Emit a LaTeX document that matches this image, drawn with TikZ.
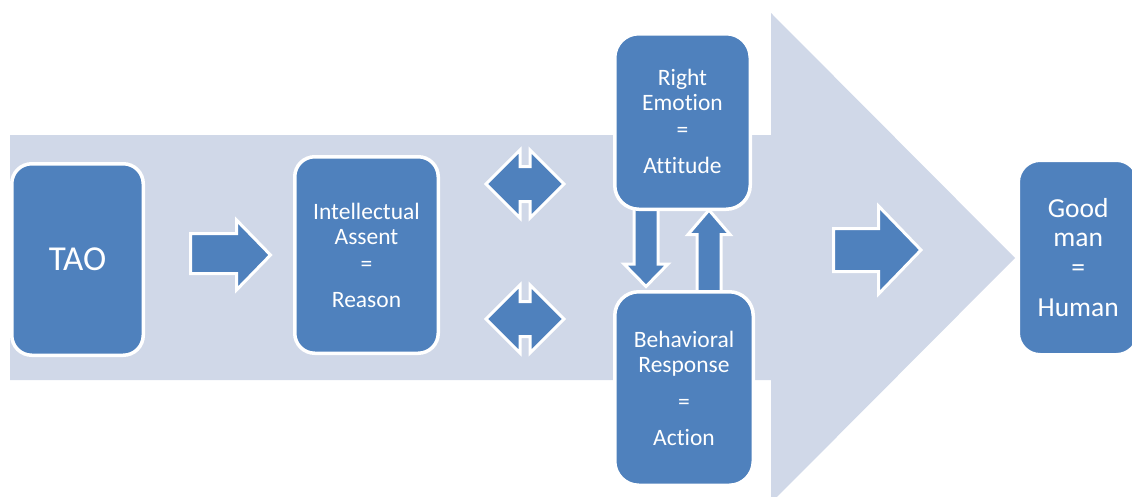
\documentclass[tikz,border=0pt]{standalone}
\usepackage{fontspec}
\setmainfont{Carlito}[Ligatures={NoCommon}]
\definecolor{boxblue}{RGB}{79,129,189}
\definecolor{bgblue}{RGB}{208,216,232}
\begin{document}
\begin{tikzpicture}[x=1pt,y=-1pt,
  box/.style={draw=white, fill=boxblue, line width=3.5pt, text=white, align=center,
    inner sep=0pt, font=\fontsize{23.5}{25}\selectfont},
  blockarrow/.style={draw=white, fill=boxblue, line width=3pt, line join=miter}]
\useasboundingbox (0,0) rectangle (1132,496);
\clip (0,0) rectangle (1132,496);
% large background arrow
\fill[bgblue] (10,135) -- (771,135) -- (771,13) -- (1015,258) -- (771,503) -- (771,380) -- (10,380) -- cycle;
% block arrows
\draw[blockarrow] (190.5,233.5) -- (236.5,233.5) -- (236.5,220) -- (270.5,255) -- (236.5,290) -- (236.5,273.5) -- (190.5,273.5) -- cycle;
\draw[blockarrow] (486,184) -- (520,150) -- (520,166.5) -- (530,166.5) -- (530,150) -- (564,184) -- (530,218) -- (530,201.5) -- (520,201.5) -- (520,218) -- cycle;
\draw[blockarrow] (486,319) -- (520,285) -- (520,301.5) -- (530,301.5) -- (530,285) -- (564,319) -- (530,353) -- (530,336.5) -- (520,336.5) -- (520,353) -- cycle;
\draw[blockarrow] (634,205) -- (658,205) -- (658,264) -- (668,264) -- (646,286.5) -- (624,264) -- (634,264) -- cycle;
\draw[blockarrow] (697,295) -- (697,234.5) -- (688,234.5) -- (709,210) -- (730,234.5) -- (721,234.5) -- (721,295) -- cycle;
\draw[blockarrow] (833.5,228.5) -- (878.5,228.5) -- (878.5,206) -- (921,250) -- (878.5,294) -- (878.5,271.5) -- (833.5,271.5) -- cycle;
% boxes
\node[box, rounded corners=20pt, minimum width=131.5pt, minimum height=191.5pt,
  font=\fontsize{35}{40}\selectfont] (tao) at (77.5,259.5) {TAO};
\node[box, rounded corners=20pt, minimum width=143.5pt, minimum height=196.5pt] (reason) at (366.5,255)
  {Intellectual\\Assent\\[2pt]=\\[11pt]Reason};
\node[box, rounded corners=24pt, minimum width=135.5pt, minimum height=175.5pt] (emotion) at (682.5,121.5)
  {Right\\Emotion\\[2pt]=\\[11pt]Attitude};
\node[box, rounded corners=24pt, minimum width=138.5pt, minimum height=193.5pt] (action) at (684,388.5)
  {Behavioral\\Response\\[12pt]=\\[11pt]Action};
\node[box, rounded corners=22pt, minimum width=120pt, minimum height=194.5pt,
  font=\fontsize{27.5}{29.5}\selectfont] (human) at (1078.25,257.5)
  {Good\\man\\=\\[11pt]Human};
\end{tikzpicture}
\end{document}
